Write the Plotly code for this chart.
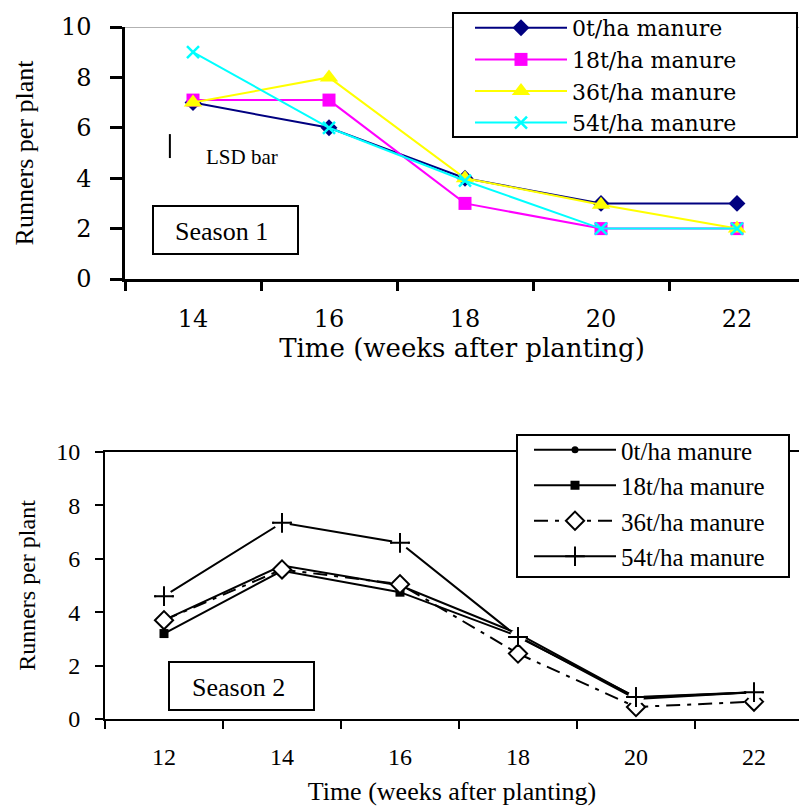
import plotly.graph_objects as go

# ---------------- data ----------------
weeks_s1 = [14, 16, 18, 20, 22]
s1_0t = [7.0, 6.0, 4.0, 3.0, 3.0]
s1_18t = [7.1, 7.1, 3.0, 2.0, 2.0]
s1_36t = [7.0, 8.0, 4.0, 2.95, 2.0]
s1_54t = [9.0, 6.0, 3.9, 2.0, 2.0]
lsd_s1 = 0.95

weeks_s2 = [12, 14, 16, 18, 20, 22]
s2_0t = [3.7, 5.75, 5.0, 3.2, 0.8, 1.0]
s2_18t = [3.2, 5.55, 4.75, 3.1, 0.75, 1.0]
s2_36t = [3.7, 5.6, 5.05, 2.45, 0.45, 0.65]
s2_54t = [4.6, 7.35, 6.6, 3.07, 0.82, 1.0]

names = ["0t/ha manure", "18t/ha manure", "36t/ha manure", "54t/ha manure"]
ticks_s1 = [14, 16, 18, 20, 22]
ticks_s2 = [12, 14, 16, 18, 20, 22]
yticks = [0, 2, 4, 6, 8, 10]

W, H = 799, 806
def px(x):
    return x / W
def py(y):
    return 1 - y / H

fig = go.Figure()

# ---------------- season 1 ----------------
s1_styles = [
    (s1_0t, "#000080", "diamond", 13),
    (s1_18t, "#FF00FF", "square", 13),
    (s1_36t, "#FFFF00", "triangle-up", 16),
    (s1_54t, "#00FFFF", "x-thin", 12),
]
for (vals, col, sym, sz), nm in zip(s1_styles, names):
    fig.add_trace(go.Scatter(
        x=weeks_s1, y=vals, name=nm, mode="lines+markers",
        line=dict(color=col, width=2),
        marker=dict(symbol=sym, size=sz, color=col, line=dict(color=col, width=2.5 if sym == "x-thin" else 0)),
        xaxis="x", yaxis="y", legend="legend", cliponaxis=False))

# ---------------- season 2 ----------------
fig.add_trace(go.Scatter(
    x=weeks_s2, y=s2_0t, name=names[0], mode="lines+markers",
    line=dict(color="black", width=2),
    marker=dict(symbol="circle", size=7, color="black"),
    xaxis="x2", yaxis="y2", legend="legend2", cliponaxis=False))
fig.add_trace(go.Scatter(
    x=weeks_s2, y=s2_18t, name=names[1], mode="lines+markers",
    line=dict(color="black", width=2),
    marker=dict(symbol="square", size=9, color="black"),
    xaxis="x2", yaxis="y2", legend="legend2", cliponaxis=False))
fig.add_trace(go.Scatter(
    x=weeks_s2, y=s2_36t, name=names[2], mode="lines+markers",
    line=dict(color="black", width=2, dash="14px,7px,4px,7px"),
    marker=dict(symbol="diamond", size=14, color="white", line=dict(color="black", width=2)),
    xaxis="x2", yaxis="y2", legend="legend2", cliponaxis=False))
fig.add_trace(go.Scatter(
    x=weeks_s2, y=s2_54t, name=names[3], mode="lines+markers",
    line=dict(color="black", width=2),
    marker=dict(symbol="cross-thin", size=14, color="black", line=dict(color="black", width=2)),
    xaxis="x2", yaxis="y2", legend="legend2", cliponaxis=False))
# white halo so the line stops short of the "+" markers
fig.add_trace(go.Scatter(
    x=weeks_s2, y=s2_54t, mode="markers", showlegend=False, hoverinfo="skip",
    marker=dict(symbol="circle", size=16, color="white"),
    xaxis="x2", yaxis="y2", cliponaxis=False))
fig.add_trace(go.Scatter(
    x=weeks_s2, y=s2_54t, mode="markers", showlegend=False,
    marker=dict(symbol="cross-thin", size=14, color="black", line=dict(color="black", width=2)),
    xaxis="x2", yaxis="y2", cliponaxis=False))

serif_wide = "DejaVu Serif"
serif = "Liberation Serif"

# top x: 68 px per week, left edge at week 13
fig.update_layout(
    width=W, height=H, margin=dict(l=0, r=0, t=0, b=0, autoexpand=False),
    paper_bgcolor="white", plot_bgcolor="white", showlegend=True,
    xaxis=dict(domain=[px(125), 1], range=[13, 13 + (W - 125) / 68], automargin=False,
               tickmode="array", tickvals=ticks_s1, ticks="", ticklabelstandoff=16,
               tickfont=dict(family=serif_wide, size=24, color="black"),
               showline=True, linecolor="black", linewidth=2.5, showgrid=False, zeroline=False,
               minor=dict(tickmode="array", tickvals=[13, 15, 17, 19, 21], ticks="outside",
                          ticklen=9, tickwidth=2.5, tickcolor="black", showgrid=False),
               title=dict(text="Time (weeks after planting)", standoff=5,
                          font=dict(family=serif_wide, size=26, color="black")),
               anchor="y"),
    yaxis=dict(domain=[py(279), py(27)], range=[0, 10], tickmode="array", tickvals=yticks,
               automargin=False,
               ticks="outside", ticklen=12, tickwidth=2.5, tickcolor="black", ticklabelstandoff=14,
               tickfont=dict(family=serif_wide, size=24, color="black"),
               showline=True, linecolor="black", linewidth=2.5, showgrid=False, zeroline=False,
               title=dict(text="Runners per plant", standoff=20,
                          font=dict(family=serif, size=26, color="black")),
               anchor="x"),
    xaxis2=dict(domain=[px(105), 1], range=[11, 11 + (W - 105) / 59], automargin=False,
                tickmode="array", tickvals=ticks_s2, ticks="", ticklabelstandoff=15,
                tickfont=dict(family=serif, size=24, color="black"),
                showline=True, linecolor="black", linewidth=2, mirror=True,
                showgrid=False, zeroline=False,
                minor=dict(tickmode="array", tickvals=[11, 13, 15, 17, 19, 21], ticks="outside",
                           ticklen=8, tickwidth=2, tickcolor="black", showgrid=False),
                title=dict(text="Time (weeks after planting)", standoff=16,
                           font=dict(family=serif, size=26, color="black")),
                anchor="y2"),
    yaxis2=dict(domain=[py(719), py(452)], range=[0, 10], tickmode="array", tickvals=yticks,
                automargin=False,
                ticks="outside", ticklen=8, tickwidth=2, tickcolor="black", ticklabelstandoff=10,
                tickfont=dict(family=serif, size=24, color="black"),
                showline=True, linecolor="black", linewidth=2, showgrid=False, zeroline=False,
                title=dict(text="Runners per plant", standoff=14,
                           font=dict(family=serif, size=24, color="black")),
                anchor="x2"),
    legend=dict(x=px(470), y=py(7), xanchor="left", yanchor="top",
                bgcolor="rgba(0,0,0,0)", borderwidth=0,
                font=dict(family=serif_wide, size=22, color="black"),
                itemwidth=92, tracegroupgap=0),
    legend2=dict(x=px(529), y=py(427), xanchor="left", yanchor="top",
                 bgcolor="rgba(0,0,0,0)", borderwidth=0,
                 font=dict(family=serif, size=25, color="black"),
                 itemwidth=82, tracegroupgap=0),
)

shapes = [
    # gray top frame line of season 1
    dict(type="line", xref="x domain", yref="y", x0=0, x1=1, y0=10, y1=10,
         line=dict(color="#999999", width=1.5), layer="below"),
    # LSD bar
    dict(type="line", xref="x", yref="y", x0=13.66, x1=13.66, y0=4.8, y1=4.8 + lsd_s1,
         line=dict(color="black", width=2)),
    # season boxes
    dict(type="rect", xref="paper", yref="paper", x0=px(153), x1=px(298), y0=py(254), y1=py(206),
         line=dict(color="black", width=2), fillcolor="white", layer="below"),
    dict(type="rect", xref="paper", yref="paper", x0=px(169), x1=px(314), y0=py(710), y1=py(662),
         line=dict(color="black", width=2), fillcolor="white", layer="below"),
    # legend frames
    dict(type="rect", xref="paper", yref="paper", x0=px(453), x1=px(797), y0=py(137), y1=py(13),
         line=dict(color="black", width=2), fillcolor="white", layer="above"),
    dict(type="rect", xref="paper", yref="paper", x0=px(517), x1=px(789), y0=py(577), y1=py(435),
         line=dict(color="black", width=2), fillcolor="white", layer="above"),
]
fig.update_layout(shapes=shapes)

fig.add_annotation(text="LSD bar", xref="paper", yref="paper", x=px(242), y=py(157),
                   xanchor="center", yanchor="middle",
                   showarrow=False, font=dict(family=serif, size=21, color="black"))
fig.add_annotation(text="Season 1", xref="paper", yref="paper", x=px(221), y=py(231),
                   xanchor="center", yanchor="middle",
                   showarrow=False, font=dict(family=serif, size=26, color="black"))
fig.add_annotation(text="Season 2", xref="paper", yref="paper", x=px(238), y=py(687),
                   xanchor="center", yanchor="middle",
                   showarrow=False, font=dict(family=serif, size=26, color="black"))

fig.write_html("out.html")
